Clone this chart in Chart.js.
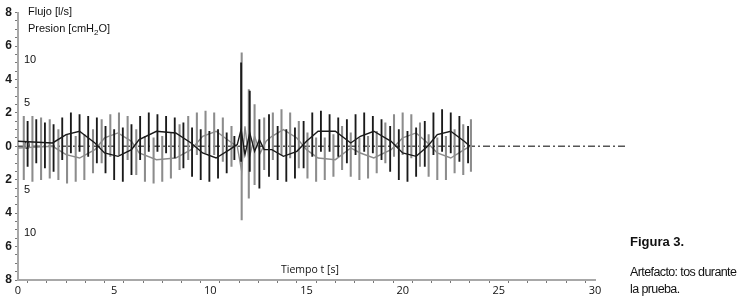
<!DOCTYPE html>
<html>
<head>
<meta charset="utf-8">
<script src="https://cdn.jsdelivr.net/npm/chart.js@4"></script>
<style>
  body { margin: 0; background: #fff; width: 756px; height: 300px; position: relative; overflow: hidden; font-family: "Liberation Sans", Arial, sans-serif; }
  #wrap { position: absolute; left: 0; top: 0; width: 640px; height: 300px; }
  .lbl { position: absolute; color: #111; white-space: nowrap; }
  sub { font-size: 8px; }
</style>
</head>
<body>
<div id="wrap"><canvas id="trace"></canvas></div>
<div class="lbl" style="left:28px;top:5px;font-size:11px;">Flujo [l/s]</div>
<div class="lbl" style="left:28px;top:22px;font-size:11px;">Presion [cmH<sub>2</sub>O]</div>
<div class="lbl" style="left:281px;top:262px;font-size:10.5px;font-family:'Open Sans',sans-serif;">Tiempo t [s]</div>
<div class="lbl" style="left:630px;top:234px;font-size:13px;font-weight:bold;">Figura 3.</div>
<div class="lbl" style="left:630px;top:265px;font-size:12.5px;letter-spacing:-0.6px;">Artefacto: tos durante</div>
<div class="lbl" style="left:630px;top:282px;font-size:12.5px;letter-spacing:-0.6px;">la prueba.</div>
<script>
// flow (black) - slow envelope
const blackEnvT = [0, 1.8, 2.5, 3.2, 4.0, 4.5, 5.2, 5.9, 6.3, 7.2, 8.2, 9.0, 9.6, 10.3, 11.0, 11.4,
  11.6, 11.8, 12.05, 12.3, 12.55, 12.8, 13.2, 13.8, 14.5, 15.0, 15.6, 16.5, 17.3, 17.8, 18.5, 19.4,
  20.0, 20.7, 21.3, 21.8, 22.5, 23.2, 23.5];
const blackEnvV = [0.3, 0.2, 0.7, 0.9, 0.2, -0.4, -0.6, -0.2, 0.4, 0.9, 0.8, 0.2, -0.4, -0.7, -0.2, 0.1,
  1.0, -0.5, 0.8, -0.3, 0.4, -0.2, -0.2, -0.6, -0.3, 0.3, 0.9, 0.9, 0.2, 0.6, 0.9, 0.3,
  -0.4, -0.6, 0.0, 0.7, 0.9, 0.3, 0.0];

// pressure (gray) - slow envelope
const grayEnvT = [0, 1.8, 2.5, 3.2, 4.0, 4.5, 5.2, 5.9, 6.3, 7.2, 8.2, 9.0, 9.6, 10.3, 11.0, 11.4,
  11.63, 11.8, 12.0, 12.3, 12.6, 12.9, 13.2, 13.8, 14.5, 15.0, 15.6, 16.5, 17.3, 17.8, 18.5, 19.4,
  20.0, 20.7, 21.3, 21.8, 22.5, 23.2, 23.5];
const grayEnvV = [-0.1, 0.0, -0.5, -0.7, -0.2, 0.5, 0.8, 0.3, -0.4, -0.8, -0.7, -0.2, 0.6, 0.9, 0.3, 0.0,
  -1.5, 1.2, -0.8, 0.6, -0.4, 0.3, 0.6, 1.0, 0.5, -0.2, -0.7, -0.8, -0.1, -0.4, -0.7, -0.2,
  0.5, 0.8, 0.2, -0.4, -0.7, -0.2, 0.0];

// vertical spikes (time, low, high)
const blackSpikeT = [0.5, 0.95, 1.4, 1.85, 2.3, 2.75, 3.2, 3.65, 4.1, 4.55, 5.0, 5.45, 5.9, 6.35, 6.8, 7.25,
  7.7, 8.15, 8.6, 9.05, 9.5, 9.95, 10.4, 10.85, 11.25, 11.6, 12.05, 12.55, 13.05, 13.5, 13.95, 14.4,
  14.85, 15.3, 15.75, 16.2, 16.65, 17.1, 17.55, 18.0, 18.45, 18.9, 19.35, 19.8, 20.25, 20.7, 21.15,
  21.6, 22.05, 22.5, 22.95, 23.4];
const blackSpikeHi = [1.5, 1.6, 1.4, 1.3, 1.7, 2.0, 1.9, 1.8, 1.7, 1.2, 1.0, 1.1, 1.3, 1.8, 2.0, 1.9,
  1.8, 1.7, 1.4, 1.1, 1.0, 0.9, 1.0, 0.8, 0.6, 5.0, 3.3, 1.6, 1.9, 1.2, 1.0, 1.1,
  1.5, 2.0, 2.1, 1.9, 1.7, 1.6, 1.9, 2.0, 1.8, 1.6, 1.2, 1.0, 0.9, 1.1, 1.5,
  2.0, 2.2, 2.0, 1.8, 1.2];
const blackSpikeLo = [-1.2, -1.0, -1.3, -1.5, -0.8, -0.4, -0.3, -0.6, -1.0, -1.6, -2.0, -2.1, -1.7, -0.8, -0.3, -0.3,
  -0.4, -0.7, -1.3, -1.8, -2.0, -2.1, -1.9, -1.6, -0.8, -0.9, -1.5, -2.5, -1.8, -2.0, -2.1, -1.9,
  -1.3, -0.6, -0.3, -0.3, -0.6, -1.0, -0.5, -0.3, -0.4, -0.8, -1.5, -2.0, -2.1, -1.8, -1.2,
  -0.5, -0.3, -0.4, -0.9, -1.0];

const graySpikeT = [0.3, 0.75, 1.2, 1.65, 2.1, 2.55, 3.0, 3.45, 3.9, 4.35, 4.8, 5.25, 5.7, 6.15, 6.6, 7.05,
  7.5, 7.95, 8.4, 8.85, 9.3, 9.75, 10.2, 10.65, 11.1, 11.63, 12.0, 12.3, 12.8, 13.25, 13.7, 14.15,
  14.6, 15.05, 15.5, 15.95, 16.4, 16.85, 17.3, 17.75, 18.2, 18.65, 19.1, 19.55, 20.0, 20.45, 20.9,
  21.35, 21.8, 22.25, 22.7, 23.15, 23.55];
const graySpikeHi = [1.8, 1.8, 1.7, 1.6, 1.0, 0.7, 0.6, 0.7, 1.0, 1.6, 1.9, 2.0, 1.8, 1.0, 0.6, 0.5,
  0.6, 0.8, 1.3, 1.8, 2.0, 2.1, 2.0, 1.7, 1.2, 5.6, 3.4, 2.5, 1.7, 2.0, 2.2, 2.0,
  1.5, 0.8, 0.5, 0.5, 0.7, 1.2, 0.8, 0.5, 0.6, 0.9, 1.4, 1.9, 2.0, 1.9, 1.4,
  0.7, 0.5, 0.6, 1.0, 1.3, 1.6];
const graySpikeLo = [-2.0, -2.1, -2.0, -1.9, -2.0, -2.2, -2.1, -2.0, -1.6, -1.0, -0.6, -0.5, -0.8, -1.7, -2.1, -2.2,
  -2.1, -1.9, -1.4, -0.8, -0.5, -0.4, -0.5, -0.9, -1.2, -4.4, -3.1, -2.3, -1.4, -0.8, -0.5, -0.7,
  -1.3, -1.9, -2.1, -2.0, -1.8, -1.4, -1.8, -2.0, -1.9, -1.6, -1.0, -0.6, -0.5, -0.7, -1.2,
  -1.8, -2.0, -2.0, -1.6, -1.7, -1.5];

// dash-dot zero line
const zeroLineT = [0, 31.6];
const zeroLineV = [0, 0];

// axis ticks
const yLabelTicks = [-8, -6, -4, -2, 0, 2, 4, 6, 8];
const xLabelTicks = [0, 5, 10, 15, 20, 25, 30];
const y2Ticks = [-10, -5, 0, 5, 10];

const pts = (t, v) => t.map((x, i) => ({ x: x, y: v[i] }));
const bars = (t, lo, hi) => t.map((x, i) => ({ x: x, y: [lo[i], hi[i]] }));

const BLACK = "#1a1a1a";
const GRAY = "#8c8c8c";

new Chart(document.getElementById("trace"), {
  type: "line",
  data: {
    datasets: [
      { type: "bar", data: bars(blackSpikeT, blackSpikeLo, blackSpikeHi), backgroundColor: BLACK,
        barThickness: 1.2, grouped: false, order: 1 },
      { type: "line", data: pts(blackEnvT, blackEnvV), borderColor: BLACK, borderWidth: 1.4,
        pointRadius: 0, tension: 0, order: 0 },
      { type: "bar", data: bars(graySpikeT, graySpikeLo, graySpikeHi), backgroundColor: GRAY,
        barThickness: 1.4, grouped: false, order: 3 },
      { type: "line", data: pts(grayEnvT, grayEnvV), borderColor: GRAY, borderWidth: 1.4,
        pointRadius: 0, tension: 0, order: 2 },
      { type: "line", data: pts(zeroLineT, zeroLineV), borderColor: "#555", borderWidth: 1.5,
        borderDash: [7, 3, 2, 3], pointRadius: 0, clip: false, order: 4 },
    ],
  },
  options: {
    responsive: true,
    maintainAspectRatio: false,
    animation: false,
    layout: { padding: { top: 8, right: 45, left: 0, bottom: 0 } },
    plugins: { legend: { display: false }, tooltip: { enabled: false } },
    scales: {
      x: {
        type: "linear",
        min: 0,
        max: 30,
        offset: false,
        afterFit: (s) => { s.height = 20; },
        afterBuildTicks: (s) => { s.ticks = Array.from({ length: 31 }, (_, i) => ({ value: i })); },
        grid: { drawOnChartArea: false, tickLength: 3, color: "#777", lineWidth: 1 },
        border: { color: "#a8a8a8", width: 2 },
        ticks: {
          autoSkip: false,
          maxRotation: 0,
          padding: 1,
          color: "#111",
          font: { family: "Open Sans", size: 11 },
          callback: (v) => (xLabelTicks.includes(v) ? String(v) : ""),
        },
      },
      y: {
        min: -8,
        max: 8,
        position: "left",
        weight: 1,
        afterFit: (s) => { s.width = 18; },
        afterBuildTicks: (s) => { s.ticks = Array.from({ length: 33 }, (_, i) => ({ value: -8 + i * 0.5 })); },
        grid: { drawOnChartArea: false, tickLength: 3, color: "#777", lineWidth: 1 },
        border: { color: "#a8a8a8", width: 2 },
        ticks: {
          autoSkip: false,
          padding: 3,
          color: "#1a1a1a",
          font: { family: "Liberation Sans", size: 12, weight: "bold" },
          callback: (v) => (yLabelTicks.includes(v) ? String(Math.abs(v)) : ""),
        },
      },
      y2: {
        min: -15.45,
        max: 15.45,
        position: "left",
        weight: 0,
        afterFit: (s) => { s.width = 0; },
        afterBuildTicks: (s) => { s.ticks = y2Ticks.map((v) => ({ value: v })); },
        grid: { display: false },
        border: { display: false },
        ticks: {
          mirror: true,
          padding: 6,
          color: "#111",
          font: { family: "Liberation Sans", size: 11 },
          callback: (v) => String(Math.abs(v)),
        },
      },
    },
  },
});
</script>
</body>
</html>
